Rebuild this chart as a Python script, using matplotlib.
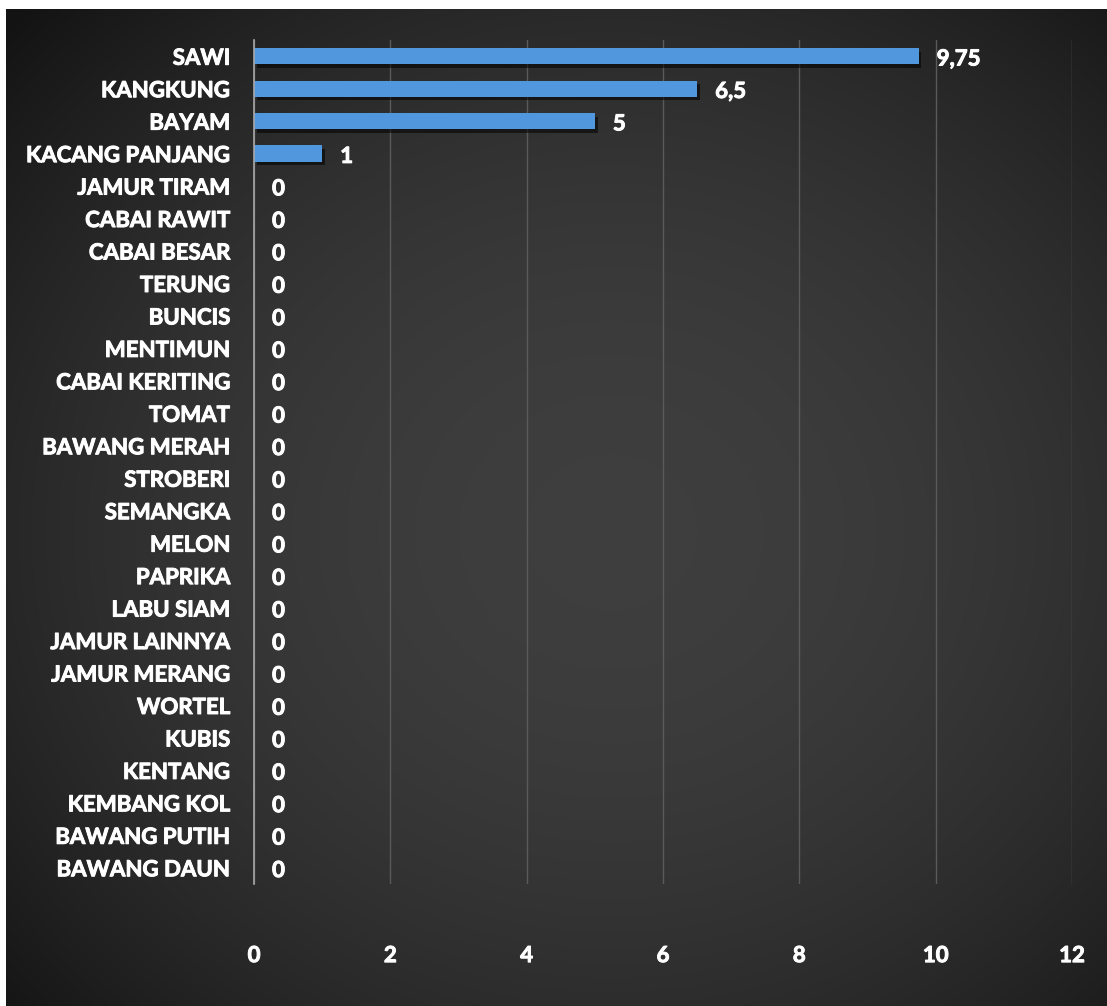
import numpy as np
import matplotlib.pyplot as plt
import matplotlib.patheffects as pe

categories = ['SAWI', 'KANGKUNG', 'BAYAM', 'KACANG PANJANG', 'JAMUR TIRAM',
              'CABAI RAWIT', 'CABAI BESAR', 'TERUNG', 'BUNCIS', 'MENTIMUN',
              'CABAI KERITING', 'TOMAT', 'BAWANG MERAH', 'STROBERI', 'SEMANGKA',
              'MELON', 'PAPRIKA', 'LABU SIAM', 'JAMUR LAINNYA', 'JAMUR MERANG',
              'WORTEL', 'KUBIS', 'KENTANG', 'KEMBANG KOL', 'BAWANG PUTIH',
              'BAWANG DAUN']
values = [9.75, 6.5, 5, 1, 0, 0, 0, 0, 0, 0, 0, 0, 0, 0, 0, 0, 0, 0, 0, 0,
          0, 0, 0, 0, 0, 0]
xticks = [0, 2, 4, 6, 8, 10, 12]

plt.rcParams['font.family'] = ['Lato', 'DejaVu Sans']
plt.rcParams['font.weight'] = 'bold'

W, H = 1107, 1006
fig = plt.figure(figsize=(W / 100, H / 100), dpi=100, facecolor='white')

# dark radial background panel (white strip left/top like the source)
bg = fig.add_axes([6 / W, 0, 1 - 6 / W, 1 - 9 / H])
bg.set_axis_off()
gx, gy = np.meshgrid(np.linspace(-1, 1, 400), np.linspace(-1, 1, 400))
r = np.sqrt(((gx - 0.1) / 1.15) ** 2 + ((gy - 0.05) / 1.15) ** 2)
shade = 0.245 - 0.10 * np.clip(r, 0, 1.3) ** 2
bg.imshow(np.dstack([shade] * 3), aspect='auto', extent=[0, 1, 0, 1],
          interpolation='bicubic')

ax = fig.add_axes([254 / W, 1 - 884 / H, (1072 - 254) / W, (884 - 40) / H])
ax.patch.set_alpha(0)

y = np.arange(len(categories))
bars = ax.barh(y, values, height=0.5, color='#5097DD', zorder=3)
for b in bars:
    b.set_path_effects([pe.SimplePatchShadow(offset=(2, -2.5), shadow_rgbFace='black', alpha=0.55),
                        pe.Normal()])

# thicken the text a bit, Calibri bold look
thick = [pe.withStroke(linewidth=0.7, foreground='white')]

for yi, v in zip(y, values):
    txt = ('%g' % v).replace('.', ',')
    ax.annotate(txt, (v, yi), xytext=(13, -2), textcoords='offset points',
                ha='left', va='center', color='white', fontsize=16,
                fontweight='bold', path_effects=thick)

ax.set_xlim(0, 12)
ax.set_ylim(len(categories) - 0.5, -0.5)
ax.set_xticks(xticks)
ax.set_yticks(y)
ax.set_yticklabels(categories)
ax.tick_params(axis='y', length=0, pad=17, labelsize=16, labelcolor='white')
ax.tick_params(axis='x', length=0, pad=44, labelsize=16, labelcolor='white')
for t in ax.get_xticklabels() + ax.get_yticklabels():
    t.set_path_effects(thick)
ax.grid(axis='x', color='#5a5a5a', lw=1, zorder=0)
for s in ['top', 'right', 'bottom']:
    ax.spines[s].set_visible(False)
ax.spines['left'].set_color('#a8a8a8')
ax.spines['left'].set_linewidth(1.2)
ax.spines['left'].set_zorder(4)

fig.savefig('out.png', dpi=100, facecolor='white')
